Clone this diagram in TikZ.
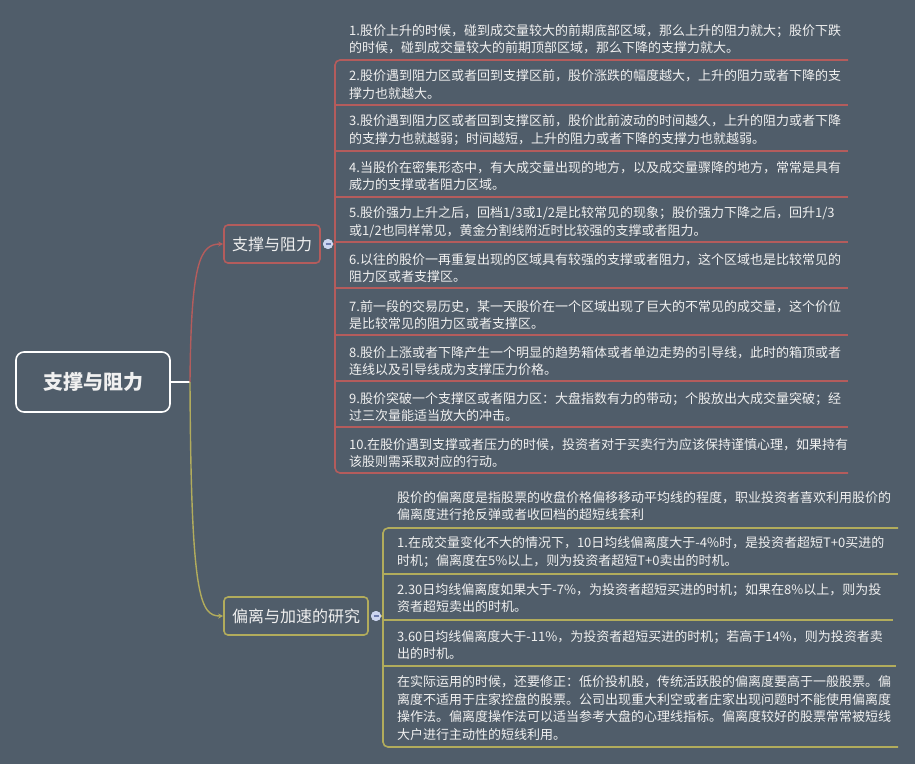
\documentclass[tikz,border=0pt]{standalone}
\usepackage{fontspec}
\setmainfont{Noto Sans CJK SC}
\usetikzlibrary{arrows.meta, positioning}
\definecolor{bgcol}{RGB}{80,93,106}
\definecolor{supcol}{RGB}{180,92,92}
\definecolor{devcol}{RGB}{178,172,92}
\definecolor{txtcol}{RGB}{240,240,240}
\definecolor{btnfill}{RGB}{205,214,240}
\definecolor{btnline}{RGB}{110,125,175}
\tikzset{
    root/.style={draw=white, line width=1.6pt, rounded corners=8pt, fill=bgcol,
      minimum width=154pt, minimum height=60pt, text=txtcol,
      font=\fontsize{20}{24}\selectfont\bfseries},
    topic/.style={line width=1.6pt, rounded corners=4pt, fill=bgcol,
      minimum height=38pt, inner xsep=8pt, text=txtcol,
      font=\fontsize{16}{20}\selectfont},
    item/.style={anchor=west, align=left, inner sep=0pt, text=txtcol,
      font=\fontsize{13}{17.5}\selectfont},
    btn/.style={circle, fill=btnfill, minimum size=10pt, inner sep=0pt},
    uline/.style={line width=1.6pt},
}

\begin{document}
\begin{tikzpicture}[x=1pt, y=-1pt]
    \fill[bgcol] (0,0) rectangle (915,764);
    \useasboundingbox (0,0) rectangle (915,764);

    \node[root] (root) at (93,382) {支撑与阻力};
    \node[topic, draw=supcol] (sup) at (272,244) {支撑与阻力};
    \node[topic, draw=devcol] (dev) at (296,616) {偏离与加速的研究};
    \coordinate (fork) at (190,382);

    \draw[white, line width=1.6pt] (root.east) -- (fork);
    \draw[supcol, line width=1.4pt, -{Stealth[length=5pt, width=5pt]}]
      (fork) .. controls (191,262) and (200,244) .. (sup.west);
    \draw[devcol, line width=1.4pt, -{Stealth[length=5pt, width=5pt]}]
      (fork) .. controls (191,598) and (200,616) .. (dev.west);

    % support and resistance
    \node[btn] (b1) at (328,244) {};
    \coordinate (t1) at (335,244);
    \draw[supcol, uline] (b1) -- (t1);
    \draw[supcol, uline, rounded corners=5pt] (848,60) -- (335,60) -- (335,473) -- (848,473);
    \foreach \y in {105,151,197,242,288,335,381,427}
      \draw[supcol, uline] (335,\y) -- (848,\y);
    \node[btn] at (b1) {};
    \draw[btnline, line width=1.2pt] ([xshift=-2.5pt]b1.center) -- ([xshift=2.5pt]b1.center);

    \node[item] (s1) at (349,39) {1.股价上升的时候，碰到成交量较大的前期底部区域，那么上升的阻力就大；股价下跌\\的时候，碰到成交量较大的前期顶部区域，那么下降的支撑力就大。};
    \node[item] (s2) at (349,84.5) {2.股价遇到阻力区或者回到支撑区前，股价涨跌的幅度越大，上升的阻力或者下降的支\\撑力也就越大。};
    \node[item] (s3) at (349,130) {3.股价遇到阻力区或者回到支撑区前，股价此前波动的时间越久，上升的阻力或者下降\\的支撑力也就越弱；时间越短，上升的阻力或者下降的支撑力也就越弱。};
    \node[item] (s4) at (349,176) {4.当股价在密集形态中，有大成交量出现的地方，以及成交量骤降的地方，常常是具有\\威力的支撑或者阻力区域。};
    \node[item] (s5) at (349,222) {5.股价强力上升之后，回档1/3或1/2是比较常见的现象；股价强力下降之后，回升1/3\\或1/2也同样常见，黄金分割线附近时比较强的支撑或者阻力。};
    \node[item] (s6) at (349,268) {6.以往的股价一再重复出现的区域具有较强的支撑或者阻力，这个区域也是比较常见的\\阻力区或者支撑区。};
    \node[item] (s7) at (349,315) {7.前一段的交易历史，某一天股价在一个区域出现了巨大的不常见的成交量，这个价位\\是比较常见的阻力区或者支撑区。};
    \node[item] (s8) at (349,361) {8.股价上涨或者下降产生一个明显的趋势箱体或者单边走势的引导线，此时的箱顶或者\\连线以及引导线成为支撑压力价格。};
    \node[item] (s9) at (349,407) {9.股价突破一个支撑区或者阻力区：大盘指数有力的带动；个股放出大成交量突破；经\\过三次量能适当放大的冲击。};
    \node[item] (s10) at (349,453) {10.在股价遇到支撑或者压力的时候，投资者对于买卖行为应该保持谨慎心理，如果持有\\该股则需采取对应的行动。};

    % deviation
    \node[btn] (b2) at (376,616) {};
    \coordinate (t2) at (383,616);
    \draw[devcol, uline] (b2) -- (t2);
    \draw[devcol, uline, rounded corners=5pt] (898,528) -- (383,528) -- (383,747) -- (898,747);
    \draw[devcol, uline] (383,574) -- (898,574);
    \draw[devcol, uline] (383,620) -- (893,620);
    \draw[devcol, uline] (383,666) -- (896,666);
    \node[btn] at (b2) {};
    \draw[btnline, line width=1.2pt] ([xshift=-2.5pt]b2.center) -- ([xshift=2.5pt]b2.center);

    \node[item] (d0) at (397,506) {股价的偏离度是指股票的收盘价格偏移移动平均线的程度，职业投资者喜欢利用股价的\\偏离度进行抢反弹或者收回档的超短线套利};
    \node[item] (d1) at (397,552) {1.在成交量变化不大的情况下，10日均线偏离度大于-4\%时，是投资者超短T+0买进的\\时机；偏离度在5\%以上，则为投资者超短T+0卖出的时机。};
    \node[item] (d2) at (397,598) {2.30日均线偏离度如果大于-7\%，为投资者超短买进的时机；如果在8\%以上，则为投\\资者超短卖出的时机。};
    \node[item] (d3) at (397,645) {3.60日均线偏离度大于-11\%，为投资者超短买进的时机；若高于14\%，则为投资者卖\\出的时机。};
    \node[item] (d4) at (397,708) {在实际运用的时候，还要修正：低价投机股，传统活跃股的偏离度要高于一般股票。偏\\离度不适用于庄家控盘的股票。公司出现重大利空或者庄家出现问题时不能使用偏离度\\操作法。偏离度操作法可以适当参考大盘的心理线指标。偏离度较好的股票常常被短线\\大户进行主动性的短线利用。};
\end{tikzpicture}
\end{document}
